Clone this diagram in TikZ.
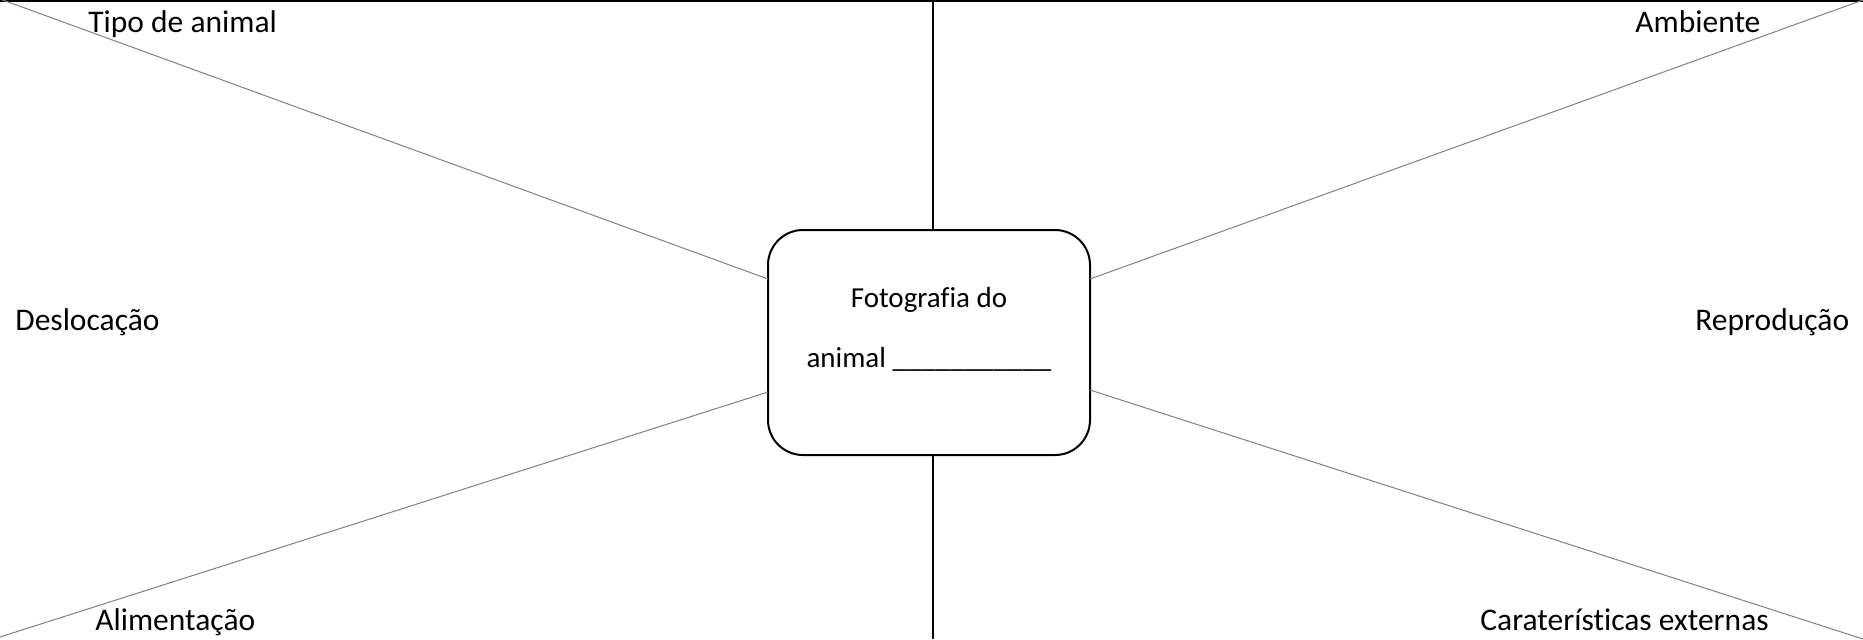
\documentclass[tikz,border=0pt]{standalone}
\usepackage{fontspec}
\setmainfont[Ligatures=NoCommon]{Carlito}
\definecolor{spoke}{RGB}{128,128,128}
\begin{document}
\begin{tikzpicture}[x=0.5pt,y=-0.5pt,
  spokeline/.style={draw=spoke,line width=0.5pt},
  axisline/.style={draw=black,line width=1pt},
  topic/.style={anchor=base west,inner sep=0pt,font=\fontsize{15.75pt}{19pt}\selectfont},
  photobox/.style={draw=black,line width=1pt,rounded corners=17.5pt,
    minimum width=161pt,minimum height=112.5pt,inner sep=0pt,align=center,
    text depth=15.5pt,
    font=\fontsize{14.5pt}{30pt}\selectfont}]
\useasboundingbox (0,0) rectangle (1863,639);
% top rule
\draw[axisline] (0,1) -- (1863,1);
% central photo frame
\node[photobox] (box) at (929,342.5) {Fotografia do\\[0pt]animal \_\_\_\_\_\_\_\_\_\_\_};
% outer corner points and frame contact points
\coordinate (ctl) at (0,-1);
\coordinate (ctr) at (1863,0);
\coordinate (cbl) at (0,637);
\coordinate (cbr) at (1863,639);
\coordinate (etl) at (768,279);
\coordinate (etr) at (1090,279);
\coordinate (ebl) at (768,392);
\coordinate (ebr) at (1090,390);
\coordinate (vtop) at (933,0);
\coordinate (vbot) at (933,639);
\coordinate (vin1) at (933,230);
\coordinate (vin2) at (933,455);
% spokes
\draw[spokeline] (ctl) -- (etl);
\draw[spokeline] (ctr) -- (etr);
\draw[spokeline] (cbl) -- (ebl);
\draw[spokeline] (cbr) -- (ebr);
% vertical axis
\draw[axisline] (vtop) -- (vin1);
\draw[axisline] (vin2) -- (vbot);
% topic labels
\node[topic] (tipo) at (88,32) {Tipo de animal};
\node[topic] (amb) at (1635,32) {Ambiente};
\node[topic] (desl) at (15,330) {Deslocação};
\node[topic] (repr) at (1695,330) {Reprodução};
\node[topic] (alim) at (95,630) {Alimentação};
\node[topic] (carac) at (1480,630) {Caraterísticas externas};
\end{tikzpicture}
\end{document}
